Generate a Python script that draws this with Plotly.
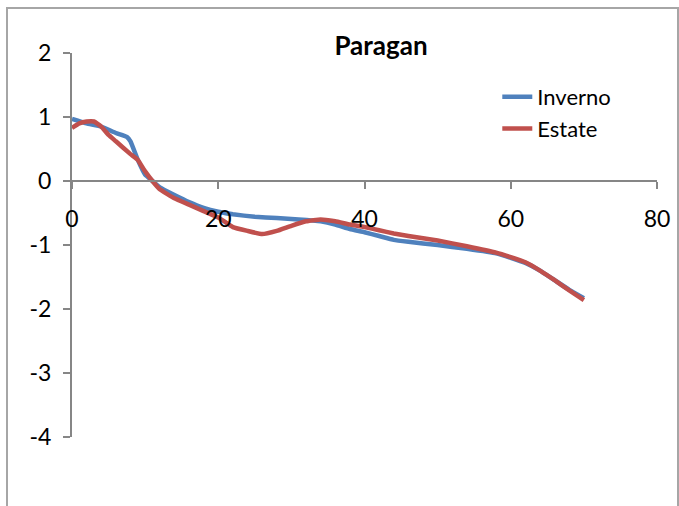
import plotly.graph_objects as go

inverno_x = [0, 2, 4, 6, 7.5, 8, 9, 10, 11, 12, 14, 16, 18, 20, 22, 25, 28, 31, 34, 36, 38, 40, 42, 44, 46, 50, 54, 58, 60, 62, 64, 66, 68, 70]
inverno_y = [0.97, 0.9, 0.85, 0.75, 0.69, 0.62, 0.33, 0.1, 0.0, -0.1, -0.22, -0.33, -0.42, -0.48, -0.52, -0.56, -0.58, -0.6, -0.63, -0.68, -0.75, -0.8, -0.86, -0.92, -0.95, -1.0, -1.06, -1.13, -1.2, -1.28, -1.4, -1.55, -1.7, -1.83]

estate_x = [0, 1, 2, 3, 4, 5, 6, 8, 9, 10, 11, 12, 14, 16, 18, 20, 22, 24, 26, 28, 30, 32, 34, 36, 38, 40, 42, 44, 46, 50, 54, 58, 60, 62, 64, 66, 68, 70]
estate_y = [0.83, 0.9, 0.93, 0.93, 0.85, 0.72, 0.62, 0.42, 0.33, 0.15, 0.0, -0.13, -0.27, -0.37, -0.47, -0.57, -0.72, -0.78, -0.83, -0.78, -0.7, -0.63, -0.6, -0.63, -0.68, -0.72, -0.77, -0.82, -0.86, -0.93, -1.02, -1.12, -1.19, -1.27, -1.4, -1.55, -1.71, -1.86]

x_ticks = [0, 20, 40, 60, 80]
x_tick_labels = ["0", "20", "40", "60", "80"]
y_ticks = [-4, -3, -2, -1, 0, 1, 2]
y_tick_labels = ["-4", "-3", "-2", "-1", "0", "1", "2"]

FONT = "Lato, 'Open Sans', sans-serif"

fig = go.Figure()
fig.add_trace(go.Scatter(x=inverno_x, y=inverno_y, mode="lines", name="Inverno",
                         line=dict(color="#4F81BD", width=4.5, shape="spline", smoothing=0.3)))
fig.add_trace(go.Scatter(x=estate_x, y=estate_y, mode="lines", name="Estate",
                         line=dict(color="#C0504D", width=4.5, shape="spline", smoothing=0.3)))

fig.update_layout(
    width=679, height=506,
    margin=dict(l=72, r=22, t=53, b=69, autoexpand=False),
    paper_bgcolor="white", plot_bgcolor="white",
    font=dict(family=FONT, size=22, color="#000000"),
    title=dict(text="<b>Paragan</b>", x=(381 / 679), xanchor="center", y=1 - 46 / 506, yanchor="middle",
               font=dict(family=FONT, size=26, color="#000000")),
    legend=dict(x=0.727, y=0.94, xanchor="left", yanchor="top", bgcolor="rgba(0,0,0,0)",
                font=dict(family=FONT, size=22), tracegroupgap=0, itemwidth=30),
    showlegend=True,
    xaxis=dict(range=[0, 80], tickvals=x_ticks, ticktext=x_tick_labels, showgrid=False, zeroline=False,
               showline=True, linecolor="#868686", linewidth=2,
               ticks="outside", ticklen=7, tickwidth=2, tickcolor="#868686",
               anchor="free", position=4 / 6, ticklabelstandoff=10, automargin=False,
               tickfont=dict(family=FONT, size=23, color="#000000")),
    yaxis=dict(range=[-4, 2], tickvals=y_ticks, ticktext=y_tick_labels, showgrid=False, zeroline=False,
               showline=True, linecolor="#868686", linewidth=2,
               ticks="outside", ticklen=7, tickwidth=2, tickcolor="#868686",
               ticklabelstandoff=7, automargin=False,
               tickfont=dict(family=FONT, size=23, color="#000000")),
)

fig.add_shape(type="rect", xref="paper", yref="paper",
              x0=(7 - 72) / 585, x1=(678 - 72) / 585,
              y0=(437 - 520) / 384, y1=(437 - 8) / 384,
              line=dict(color="#A6A6A6", width=2), fillcolor="rgba(0,0,0,0)", layer="below")

fig.write_html("out.html", config={"displayModeBar": False},
               post_script="document.body.style.margin='0';document.body.style.overflow='hidden';")
